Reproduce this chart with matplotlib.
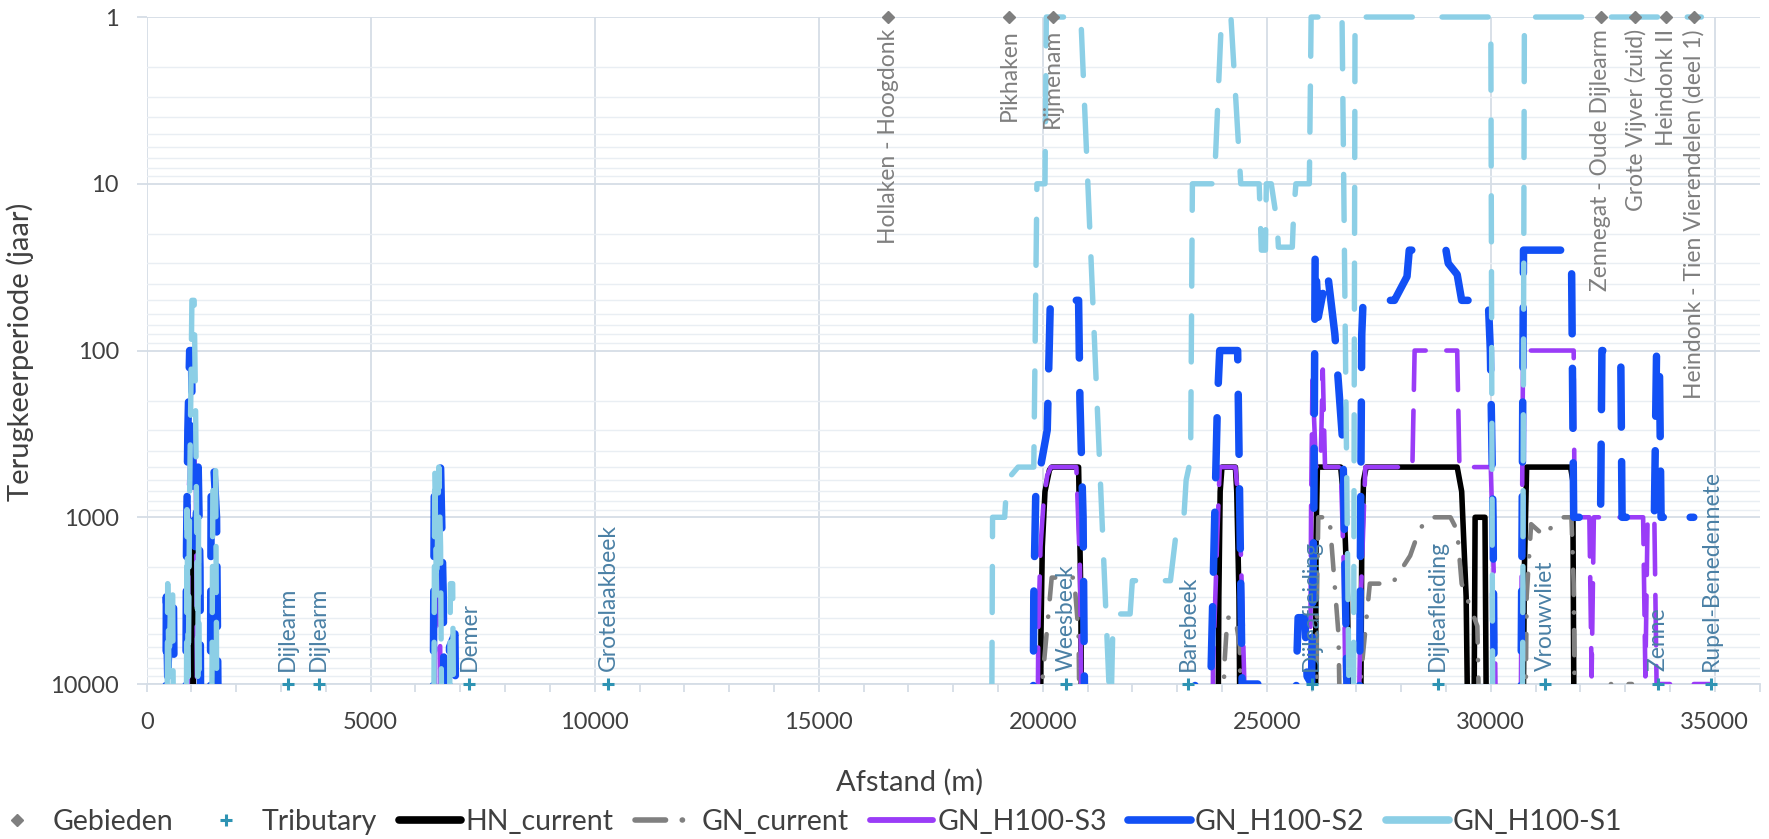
import numpy as np
import matplotlib.pyplot as plt
from matplotlib.lines import Line2D
from matplotlib.patches import Rectangle
from matplotlib.ticker import LogLocator, NullFormatter, MultipleLocator

plt.rcParams['font.family'] = ['Lato', 'DejaVu Sans']

nan = np.nan
NF = 100000  # no flooding -> below the chart

# Gebieden (drawn at T = 1)
geb_x = [16556, 19245, 20226, 32457, 33229, 33920, 34537]
geb_lbl = ['Hollaken - Hoogdonk', 'Pikhaken', 'Rijmenam', 'Zennegat - Oude Dijlearm',
           'Grote Vijver (zuid)', 'Heindonk II', 'Heindonk - Tien Vierendelen (deel 1)']

# Tributaries (drawn at T = 10000)
trib_x = [3150, 3840, 7200, 10300, 20520, 23250, 26000, 28815, 31220, 33735, 34925]
trib_lbl = ['Dijlearm', 'Dijlearm', 'Demer', 'Grotelaakbeek', 'Weesbeek', 'Barebeek',
            'Dijleafleiding', 'Dijleafleiding', 'Vrouwvliet', 'Zenne', 'Rupel-Benedennete']

# HN_current
hn_x = [1000, 1030, 1060, 1500, 1530, 1560,
        19940, 19960, 19990, 20050, 20150, 20200, 20800, 20850, 20880,
        23900, 23930, 23960, 24000, 24300, 24330, 24380, 24420,
        26080, 26100, 26130, 26650, 26720, 26800, 26880, 27080, 27120, 27160, 27220,
        29250, 29350, 29450, 29520, 29610, 29650, 29870, 29920,
        30700, 30750, 30800, 31780, 31830, 31870]
hn_T = [NF, 1500, NF, NF, 4000, NF,
        NF, 5000, 1500, 700, 520, 500, 500, 3000, NF,
        NF, 3000, 700, 500, 500, 700, 3000, NF,
        NF, 1300, 500, 500, 800, 3000, NF, NF, 1500, 600, 500,
        500, 700, 3000, NF, NF, 1000, 1000, NF,
        NF, 2000, 500, 500, 600, NF]

# GN_current
gn_x = [19980, 20000, 20200, 20700, 20800, 20850,
        24000, 24050, 24120, 24300, 24400, 24450,
        26100, 26120, 26150, 26400, 26450, 26600, 26680,
        27050, 27100, 27300, 27800, 28200, 28400, 28600, 29100, 29250, 29350, 29700, 29800,
        30750, 30800, 30900, 31200, 31400, 31600, 31800, 31850, 31900,
        32500, 32520, 33150, 33170]
gn_T = [NF, 9000, 2300, 2300, 5000, NF,
        NF, 8000, 4000, 4000, 6000, NF,
        NF, 3000, 1000, 1000, 1500, 5000, NF,
        NF, 9000, 2500, 2500, 1700, 1200, 1000, 1000, 1200, 2500, 4500, NF,
        NF, 3000, 1100, 1300, 1100, 1000, 1000, 2500, NF,
        NF, 10000, 10000, NF]

# GN_H100-S3
s3_x = [900, 940, 980, 1060, 1100, 1140,
        6420, 6450, 6540, 6580,
        19870, 19900, 19950, 20020, 20100, 20180, 20750, 20830, 20900,
        23780, 23800, 23900, 23950, 24300, 24400, 24500, 24520,
        25950, 25990, 26020, 26100, 26200, 26250, 26300, 26650, 26720, 26800,
        27000, 27100, 27200, 28250, 28300, 29250, 29300, 30000, 30080, 30150,
        30650, 30720, 31850, 31870, 32200, 32250, 32300, 33400, 33450, 33500, 33650, 33700, 34000, nan,
        34530, 34900]
s3_T = [NF, 700, 400, 400, 700, NF,
        NF, 2000, 2000, NF,
        NF, 5000, 1500, 800, 560, 500, 500, 2000, NF,
        NF, 8000, 1200, 500, 500, 1000, 10000, NF,
        NF, 800, 150, 500, 500, 130, 500, 500, 2000, NF,
        NF, 3000, 500, 500, 100, 100, 500, 500, 3000, NF,
        NF, 100, 100, 1000, 1000, 9000, 1000, 1000, 9000, 1000, 1000, 10000, 10000, nan,
        10000, 10000]

# GN_H100-S2
s2_x = [420, 440, 470, 520, 600, 640,
        860, 890, 920, 960, 1000, 1040, 1080, 1150, 1190, 1220,
        1410, 1440, 1500, 1560, 1620,
        6380, 6420, 6470, 6560, 6620, 6660,
        6720, 6760, 6880, 6930,
        19770, 19800, 19850, 19950, 20100, 20170, 20800, 20830, 20900, 20960,
        23380, 23400, 23750, 23900, 23950, 24350, 24450, 24800, 24830,
        25620, 25660, 25700, 25850, 25900, 26000, 26050, 26080, 26150, 26350, 26520, 26700, 26850,
        27050, 27120, 27150, 27850, 28130, 28180, 29000, 29050, 29250, 29350, 29600, 29700, 29950,
        29990, 30050, 30100,
        30650, 30700, 30730, 31800, 31850, 32450, 32480, 32900, 32930, 33650, 33700, 33760, 33800,
        33850, nan,
        34450, 34530]
s2_T = [NF, 3000, 9000, 4000, 3500, NF,
        NF, 1500, 300, 100, 100, 1000, 1500, 500, 2000, NF,
        NF, 700, 500, 1000, NF,
        NF, 700, 500, 500, 3000, NF,
        NF, 6000, 5000, NF,
        NF, 3000, 600, 500, 300, 50, 50, 200, 1000, NF,
        NF, 10000, 10000, 200, 100, 100, 10000, 10000, NF,
        NF, 9000, 4000, 4000, 9000, 10000, 1000, 26, 63, 33, 80, 370, NF,
        NF, 80, 50, 50, 36, 25, 25, 30, 35, 50, 50, 60, 55,
        100, 1000, NF,
        NF, 1000, 25, 25, 1000, 1000, 100, 100, 1000, 1000, 100, 100, 1000,
        1000, nan,
        1000, 1000]

# GN_H100-S1
s1_x = [440, 470, 500, 540, 580, 610,
        880, 900, 930, 960, 990, 1010, 1060, 1090, 1110, 1140, 1160, 1190,
        1440, 1480, 1540, 1580,
        6400, 6430, 6470, 6520, 6560, 6600,
        6740, 6780, 6830, 6870,
        18850, 18880, 19150, 19200, 19450, 19800, 19870, 20050, 20080, 20850, 21490,
        21530, 21570, 21700, 21950, 22000, 22850, 23000, 23150, 23200, 23300, 23340, 23830, 23990,
        24200, 24420, 24830, 24880, 24970, 24990, 25100, 25230, 25260, 25570, 25600, 25650, 25950, 25990,
        26680, 26870, 26930, 26970, 30000, 30050, 30700, 30750, 34700]
s1_T = [NF, 2500, 9000, 2500, 2500, NF,
        NF, 900, 9000, 700, 150, 50, 50, 200, 700, 9000, 1000, NF,
        NF, 500, 500, NF,
        NF, 500, 3000, 500, 1500, NF,
        NF, 2500, 2500, NF,
        NF, 1000, 1000, 600, 500, 500, 10, 10, 1, 1, 12000,
        12000, 4000, 3800, 3800, 2400, 2400, 1100, 1000, 600, 450, 10, 10, 1,
        1, 10, 10, 25, 25, 10, 10, 17, 24, 24, 15, 10, 10, 1,
        1, NF, NF, 1, 1, NF, NF, 1, 1]

ytick_vals = [1, 10, 100, 1000, 10000]
ytick_lbl = ['1', '10', '100', '1000', '10000']
xtick_vals = [0, 5000, 10000, 15000, 20000, 25000, 30000, 35000]
xtick_lbl = ['0', '5000', '10000', '15000', '20000', '25000', '30000', '35000']

c_geb = '#7f7f7f'
c_trib = '#2e93b3'
c_trib_txt = '#4a80a5'
c_hn = '#000000'
c_gn = '#808080'
c_s3 = '#9a3cf7'
c_s2 = '#1250f5'
c_s1 = '#8ccfe6'
grid_c = '#d5dde6'
txt_c = '#404040'

fig = plt.figure(figsize=(17.69, 8.39), dpi=100)
ax = fig.add_axes([0.0829, 0.1847, 0.9118, 0.7950])

ax.set_yscale('log')
ax.set_xlim(0, 36000)
ax.set_ylim(10000, 1)

clip = Rectangle((0, 0), 1, 1.015, transform=ax.transAxes, visible=False)
ax.add_patch(clip)


def draw(x, y, color, lw, z, dashes=None):
    ln, = ax.plot(x, y, color=color, lw=lw, zorder=z,
                  solid_capstyle='round', dash_capstyle='round',
                  solid_joinstyle='round', dash_joinstyle='round')
    if dashes is not None:
        ln.set_dashes(dashes)
    ln.set_clip_path(clip)
    return ln


draw(hn_x, hn_T, c_hn, 4.0, 3)
draw(gn_x, gn_T, c_gn, 3.3, 4, (5.5, 3.8, 0.05, 3.8))
draw(s3_x, s3_T, c_s3, 3.3, 5, (11, 4.5))
draw(s2_x, s2_T, c_s2, 5.4, 6, (8, 4.6))
draw(s1_x, s1_T, c_s1, 3.9, 7, (8.5, 5.5))

ax.plot(geb_x, [1] * len(geb_x), ls='none', marker='D', ms=6, color=c_geb,
        zorder=9, clip_on=False)
ax.plot(trib_x, [10000] * len(trib_x), ls='none', marker='+', ms=9, mew=2.2,
        color=c_trib, zorder=9, clip_on=False)

for x, lbl in zip(geb_x, geb_lbl):
    ax.annotate(lbl, (x, 1), xytext=(0, -12), textcoords='offset pixels',
                rotation=90, ha='center', va='top', fontsize=16.5, color=c_geb,
                zorder=10, annotation_clip=False)
for x, lbl in zip(trib_x, trib_lbl):
    ax.annotate(lbl, (x, 10000), xytext=(0, 13), textcoords='offset pixels',
                rotation=90, ha='center', va='bottom', fontsize=16.5, color=c_trib_txt,
                zorder=10, annotation_clip=False)

# axes, ticks and grid
ax.set_yticks(ytick_vals)
ax.set_yticklabels(ytick_lbl)
ax.yaxis.set_minor_locator(LogLocator(base=10, subs=np.arange(2, 10)))
ax.yaxis.set_minor_formatter(NullFormatter())
ax.set_xticks(xtick_vals)
ax.set_xticklabels(xtick_lbl)
ax.xaxis.set_minor_locator(MultipleLocator(1000))

ax.grid(which='major', axis='both', color=grid_c, lw=1.3, zorder=0)
ax.grid(which='minor', axis='y', color='#e9eef3', lw=1.0, zorder=0)
ax.set_axisbelow(True)

for s in ['top', 'right', 'left']:
    ax.spines[s].set_visible(False)
ax.spines['bottom'].set_color(grid_c)
ax.spines['bottom'].set_linewidth(1.3)

ax.tick_params(axis='y', which='major', length=7, width=1.3, color=grid_c, pad=13,
               labelsize=17, labelcolor=txt_c)
ax.tick_params(axis='y', which='minor', length=0)
ax.tick_params(axis='x', which='both', length=6, width=1.3, color=grid_c, pad=14,
               labelsize=17, labelcolor=txt_c)

fig.text(910 / 1769, 1 - 782 / 839, 'Afstand (m)', ha='center', va='center',
         fontsize=21, color=txt_c)
fig.text(20 / 1769, 1 - 352 / 839, 'Terugkeerperiode (jaar)', ha='center', va='center',
         rotation=90, fontsize=21, color=txt_c)

handles = [
    Line2D([], [], ls='none', marker='D', ms=6, color=c_geb),
    Line2D([], [], ls='none', marker='+', ms=9, mew=2.2, color=c_trib),
    Line2D([], [], color=c_hn, lw=5.5, solid_capstyle='round'),
    Line2D([], [], color=c_gn, lw=4.0, dashes=(5.5, 3.0, 0.05, 3.0), dash_capstyle='round'),
    Line2D([], [], color=c_s3, lw=4.2, solid_capstyle='round'),
    Line2D([], [], color=c_s2, lw=5.5, solid_capstyle='round'),
    Line2D([], [], color=c_s1, lw=5.5, solid_capstyle='round'),
]
labels = ['Gebieden', 'Tributary', 'HN_current', 'GN_current', 'GN_H100-S3', 'GN_H100-S2',
          'GN_H100-S1']
leg = fig.legend(handles, labels, loc='center left', bbox_to_anchor=(-14 / 1769, 1 - 822 / 839),
                 ncol=7, frameon=False, fontsize=20.5, handlelength=2.2, handletextpad=0.15,
                 columnspacing=0.75, borderpad=0, borderaxespad=0)
for t in leg.get_texts():
    t.set_color(txt_c)

fig.savefig('out.png', dpi=100)
